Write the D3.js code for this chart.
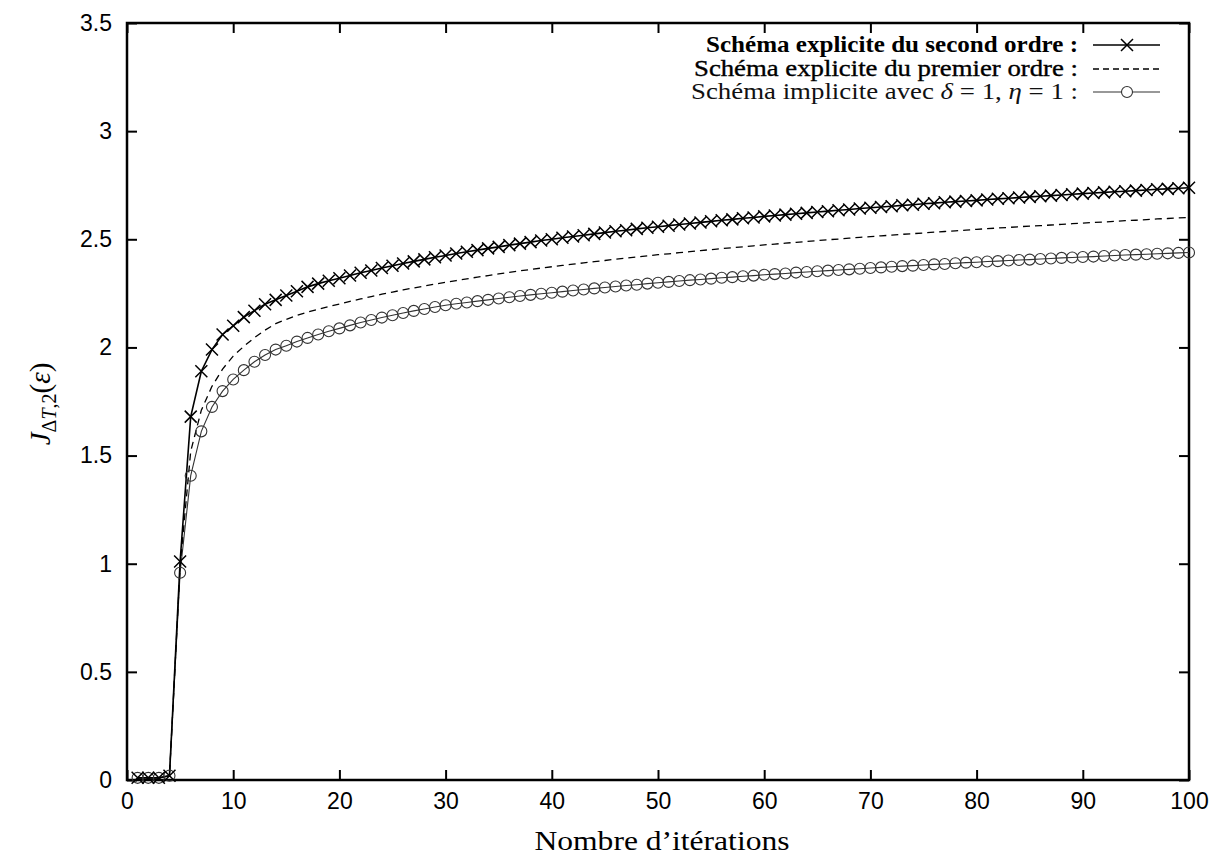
<!DOCTYPE html>
<html><head><meta charset="utf-8">
<script src="https://cdn.jsdelivr.net/npm/d3@7"></script>
<style>body{margin:0;background:#fff}</style>
</head><body>
<svg id="c" width="1217" height="861"></svg>
<script>
const iterations = d3.range(1, 101);
const xTicks = [0,10,20,30,40,50,60,70,80,90,100];
const yTicks = [0,0.5,1,1.5,2,2.5,3,3.5];
const seriesNames = ["Schéma explicite du second ordre :", "Schéma explicite du premier ordre :", "Schéma implicite avec δ = 1, η = 1 :"];

const secondOrder = [0.01,0.01,0.01,0.02,1.01,1.68,1.89,1.99,2.06,2.10,
2.14,2.17,2.20,2.22,2.24,2.26,2.28,2.295,2.308,2.320,
2.333,2.345,2.356,2.367,2.378,2.388,2.398,2.407,2.417,2.425,
2.434,2.442,2.450,2.458,2.465,2.473,2.480,2.487,2.494,2.500,
2.507,2.513,2.519,2.525,2.531,2.537,2.542,2.548,2.553,2.558,
2.563,2.568,2.573,2.578,2.583,2.588,2.592,2.597,2.601,2.606,
2.610,2.614,2.618,2.622,2.626,2.630,2.634,2.638,2.642,2.646,
2.649,2.653,2.657,2.660,2.664,2.667,2.671,2.674,2.677,2.680,
2.684,2.687,2.690,2.693,2.696,2.699,2.702,2.705,2.708,2.711,
2.714,2.717,2.720,2.722,2.725,2.728,2.731,2.733,2.736,2.738];

const firstOrder = [0.01,0.01,0.01,0.02,0.99,1.52,1.71,1.82,1.90,1.96,
2.005,2.045,2.08,2.11,2.13,2.148,2.163,2.176,2.189,2.200,
2.213,2.224,2.235,2.246,2.256,2.266,2.275,2.284,2.293,2.301,
2.309,2.317,2.325,2.332,2.340,2.347,2.354,2.360,2.367,2.373,
2.379,2.385,2.391,2.397,2.402,2.408,2.413,2.418,2.423,2.429,
2.433,2.438,2.443,2.448,2.452,2.457,2.461,2.465,2.470,2.474,
2.478,2.482,2.486,2.490,2.494,2.498,2.501,2.505,2.509,2.512,
2.516,2.519,2.523,2.526,2.529,2.533,2.536,2.539,2.542,2.546,
2.549,2.552,2.555,2.558,2.561,2.563,2.566,2.569,2.572,2.575,
2.578,2.580,2.583,2.586,2.588,2.591,2.594,2.596,2.599,2.601];

const implicit = [0.01,0.01,0.01,0.02,0.958,1.407,1.612,1.725,1.798,1.852,
1.895,1.934,1.965,1.990,2.008,2.027,2.044,2.060,2.075,2.088,
2.102,2.115,2.127,2.138,2.149,2.159,2.169,2.178,2.187,2.195,
2.202,2.208,2.214,2.220,2.226,2.232,2.238,2.243,2.248,2.253,
2.258,2.263,2.268,2.273,2.277,2.282,2.286,2.290,2.295,2.299,
2.303,2.307,2.311,2.314,2.318,2.322,2.325,2.329,2.332,2.336,
2.339,2.342,2.346,2.349,2.352,2.355,2.358,2.361,2.364,2.367,
2.370,2.373,2.376,2.378,2.381,2.384,2.386,2.389,2.392,2.394,
2.397,2.399,2.402,2.404,2.406,2.409,2.411,2.414,2.416,2.418,
2.420,2.423,2.425,2.427,2.429,2.431,2.433,2.435,2.437,2.439];

const svg = d3.select("#c");
const L = 127, R = 1189, T = 23, B = 780;
const x = d3.scaleLinear().domain([0,100]).range([L,R]);
const y = d3.scaleLinear().domain([0,3.5]).range([B,T]);

const tickFont = "'Liberation Sans', Arial, sans-serif";
const serif = "'Liberation Serif', 'DejaVu Serif', serif";

// axes
const gx = svg.append("g").attr("transform",`translate(0,${B})`)
  .call(d3.axisBottom(x).tickValues(xTicks).tickSizeInner(-10).tickSizeOuter(0).tickPadding(12).tickFormat(d3.format("d")));
const gy = svg.append("g").attr("transform",`translate(${L},0)`)
  .call(d3.axisLeft(y).tickValues(yTicks).tickSizeInner(-10).tickSizeOuter(0).tickPadding(15).tickFormat(d => String(d)));
const gt = svg.append("g").attr("transform",`translate(0,${T})`)
  .call(d3.axisTop(x).tickValues(xTicks).tickSizeInner(-10).tickSizeOuter(0).tickFormat(""));
const gr = svg.append("g").attr("transform",`translate(${R},0)`)
  .call(d3.axisRight(y).tickValues(yTicks).tickSizeInner(-10).tickSizeOuter(0).tickFormat(""));
[gx,gy,gt,gr].forEach(g => {
  g.select(".domain").remove();
  g.selectAll(".tick line").attr("stroke","#000").attr("stroke-width",2);
  g.selectAll(".tick text").attr("font-family",tickFont).attr("font-size",23).attr("fill","#000");
});
gx.selectAll(".tick text").attr("dy","0.75em");
svg.append("rect").attr("x",L).attr("y",T).attr("width",R-L).attr("height",B-T)
  .attr("fill","none").attr("stroke","#000").attr("stroke-width",2.5);

// lines
const line = vals => d3.line().x((d,i)=>x(iterations[i])).y(d=>y(d))(vals);
svg.append("path").attr("d",line(implicit)).attr("fill","none").attr("stroke","#333").attr("stroke-width",1.1);
svg.append("path").attr("d",line(firstOrder)).attr("fill","none").attr("stroke","#000").attr("stroke-width",1.3).attr("stroke-dasharray","7,5");
svg.append("path").attr("d",line(secondOrder)).attr("fill","none").attr("stroke","#000").attr("stroke-width",1.6);

const crossPath = "M-6,-6L6,6M-6,6L6,-6";
svg.append("g").selectAll("circle").data(implicit).join("circle")
  .attr("cx",(d,i)=>x(iterations[i])).attr("cy",d=>y(d)).attr("r",5.5)
  .attr("fill","none").attr("stroke","#333").attr("stroke-width",1.1);
svg.append("g").selectAll("path").data(secondOrder).join("path")
  .attr("transform",(d,i)=>`translate(${x(iterations[i])},${y(d)})`).attr("d",crossPath)
  .attr("fill","none").attr("stroke","#000").attr("stroke-width",1.5);

// legend
const lg = svg.append("g");
const ly = [45, 69, 92];
const lw = [372, 384, 387];
const t1 = lg.append("text").attr("x",1078).attr("y",ly[0]+7).attr("text-anchor","end")
  .attr("font-family",serif).attr("font-size",23).attr("font-weight",700)
  .attr("textLength",lw[0]).attr("lengthAdjust","spacingAndGlyphs").text(seriesNames[0]);
const t2 = lg.append("text").attr("x",1078).attr("y",ly[1]+7).attr("text-anchor","end")
  .attr("font-family",serif).attr("font-size",23).attr("stroke","#000").attr("stroke-width",0.35)
  .attr("textLength",lw[1]).attr("lengthAdjust","spacingAndGlyphs").text(seriesNames[1]);
const t3 = lg.append("text").attr("x",1078).attr("y",ly[2]+7).attr("text-anchor","end")
  .attr("font-family",serif).attr("font-size",23)
  .attr("textLength",lw[2]).attr("lengthAdjust","spacingAndGlyphs").attr("fill","#111");
t3.append("tspan").text("Schéma implicite avec ");
t3.append("tspan").attr("font-style","italic").text("δ");
t3.append("tspan").text(" = 1,  ");
t3.append("tspan").attr("font-style","italic").text("η");
t3.append("tspan").text(" = 1 :");

lg.append("line").attr("x1",1093).attr("x2",1160).attr("y1",ly[0]).attr("y2",ly[0]).attr("stroke","#000").attr("stroke-width",1.6);
lg.append("path").attr("transform",`translate(1127,${ly[0]})`).attr("d",crossPath).attr("stroke","#000").attr("stroke-width",1.5);
lg.append("line").attr("x1",1093).attr("x2",1160).attr("y1",ly[1]).attr("y2",ly[1]).attr("stroke","#000").attr("stroke-width",1.3).attr("stroke-dasharray","6,4");
lg.append("line").attr("x1",1093).attr("x2",1160).attr("y1",ly[2]).attr("y2",ly[2]).attr("stroke","#333").attr("stroke-width",1.1);
lg.append("circle").attr("cx",1127).attr("cy",ly[2]).attr("r",5.5).attr("fill","#fff").attr("stroke","#333").attr("stroke-width",1.1);

// axis titles
svg.append("text").attr("x",662).attr("y",850).attr("text-anchor","middle")
  .attr("font-family",serif).attr("font-size",27).attr("fill","#000")
  .attr("textLength",255).attr("lengthAdjust","spacingAndGlyphs").text("Nombre d’itérations");

const yl = svg.append("text").attr("transform","translate(50,404) rotate(-90)").attr("text-anchor","middle")
  .attr("font-family",serif).attr("font-size",29).attr("fill","#000");
yl.append("tspan").attr("font-style","italic").text("J");
yl.append("tspan").attr("font-size",20).attr("dy",6).text("Δ");
yl.append("tspan").attr("font-size",20).attr("font-style","italic").text("T");
yl.append("tspan").attr("font-size",20).text(",2");
yl.append("tspan").attr("dy",-6).text("(");
yl.append("tspan").attr("font-style","italic").text("ε");
yl.append("tspan").text(")");
</script>
</body></html>
